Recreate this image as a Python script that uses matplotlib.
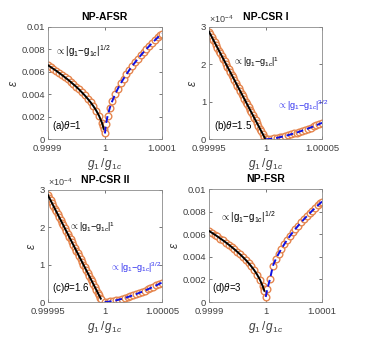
import numpy as np
import matplotlib
matplotlib.use("Agg")
import matplotlib.pyplot as plt

plt.rcParams['font.family'] = ['Liberation Sans', 'DejaVu Sans']
plt.rcParams['mathtext.fontset'] = 'custom'
plt.rcParams['mathtext.rm'] = 'Liberation Sans'
plt.rcParams['mathtext.it'] = 'Liberation Sans:italic'
plt.rcParams['mathtext.bf'] = 'Liberation Sans:bold'

# ---- data: distance from the critical point |g1/g1c - 1| and epsilon ----
# panel (a) NP-AFSR, distances in units of 1e-4
a_left_d = [1.0, 0.95, 0.9, 0.85, 0.8, 0.75, 0.7, 0.65, 0.6, 0.55, 0.5, 0.45,
            0.4, 0.35, 0.3, 0.25, 0.2, 0.15, 0.1, 0.05, 0.03, 0.02]
a_left_eps = [0.00660, 0.00643, 0.00626, 0.00609, 0.00590, 0.00572, 0.00552,
              0.00532, 0.00511, 0.00489, 0.00467, 0.00443, 0.00417, 0.00390,
              0.00361, 0.00330, 0.00295, 0.00256, 0.00209, 0.00148, 0.00114,
              0.00093]
a_right_d = [0.003, 0.02, 0.05, 0.09, 0.13, 0.18, 0.23, 0.28, 0.33, 0.38, 0.43,
             0.48, 0.53, 0.58, 0.63, 0.68, 0.73, 0.78, 0.83, 0.88, 0.93, 0.97, 1.0]
a_right_eps = [0.00052, 0.00133, 0.00210, 0.00282, 0.00339, 0.00399, 0.00451,
               0.00497, 0.00540, 0.00579, 0.00616, 0.00651, 0.00684, 0.00716,
               0.00746, 0.00775, 0.00803, 0.00830, 0.00856, 0.00882, 0.00907,
               0.00926, 0.00940]

# panel (b) NP-CSR I, distances in units of 1e-5, epsilon in units of 1e-4
b_left_d = [5, 4.875, 4.75, 4.625, 4.5, 4.375, 4.25, 4.125, 4, 3.875, 3.75,
            3.625, 3.5, 3.375, 3.25, 3.125, 3, 2.875, 2.75, 2.625, 2.5, 2.375,
            2.25, 2.125, 2, 1.875, 1.75, 1.625, 1.5, 1.375, 1.25, 1.125, 1,
            0.875, 0.75, 0.625, 0.5, 0.375, 0.25, 0.125, 0]
b_left_eps = [2.870, 2.798, 2.727, 2.655, 2.583, 2.511, 2.440, 2.368, 2.296,
              2.224, 2.153, 2.081, 2.009, 1.937, 1.866, 1.794, 1.722, 1.650,
              1.579, 1.507, 1.435, 1.363, 1.292, 1.220, 1.148, 1.076, 1.005,
              0.933, 0.861, 0.789, 0.718, 0.646, 0.574, 0.502, 0.431, 0.359,
              0.287, 0.215, 0.144, 0.072, 0.0]
b_right_d = [0, 0.25, 0.5, 0.75, 1, 1.25, 1.5, 1.75, 2, 2.25, 2.5, 2.75, 3,
             3.25, 3.5, 3.75, 4, 4.25, 4.5, 4.75, 5]
b_right_eps = [0.0, 0.005, 0.014, 0.026, 0.039, 0.055, 0.072, 0.091, 0.111,
               0.133, 0.156, 0.179, 0.205, 0.231, 0.258, 0.286, 0.315, 0.345,
               0.376, 0.407, 0.44]

# panel (c) NP-CSR II
c_left_d = [5, 4.875, 4.75, 4.625, 4.5, 4.375, 4.25, 4.125, 4, 3.875, 3.75,
            3.625, 3.5, 3.375, 3.25, 3.125, 3, 2.875, 2.75, 2.625, 2.5, 2.375,
            2.25, 2.125, 2, 1.875, 1.75, 1.625, 1.5, 1.375, 1.25, 1.125, 1,
            0.875, 0.75, 0.625, 0.5, 0.375, 0.35]
c_left_eps = [2.870, 2.796, 2.721, 2.646, 2.571, 2.497, 2.422, 2.347, 2.272,
              2.198, 2.123, 2.048, 1.973, 1.899, 1.824, 1.749, 1.674, 1.600,
              1.525, 1.450, 1.375, 1.301, 1.226, 1.151, 1.076, 1.002, 0.927,
              0.852, 0.777, 0.703, 0.628, 0.553, 0.478, 0.404, 0.329, 0.254,
              0.179, 0.105, 0.090]
c_right_d = [0, 0.25, 0.5, 0.75, 1, 1.25, 1.5, 1.75, 2, 2.25, 2.5, 2.75, 3,
             3.25, 3.5, 3.75, 4, 4.25, 4.5, 4.75, 5]
c_right_eps = [0.0, 0.006, 0.016, 0.030, 0.046, 0.065, 0.085, 0.108, 0.132,
               0.157, 0.184, 0.212, 0.242, 0.273, 0.305, 0.338, 0.372, 0.408,
               0.444, 0.482, 0.52]

# panel (d) NP-FSR, distances in units of 1e-4
d_left_d = [1.0, 0.95, 0.9, 0.85, 0.8, 0.75, 0.7, 0.65, 0.6, 0.55, 0.5, 0.45,
            0.4, 0.35, 0.3, 0.25, 0.2, 0.15, 0.1, 0.05, 0.03, 0.02]
d_left_eps = [0.00630, 0.00614, 0.00598, 0.00581, 0.00563, 0.00546, 0.00527,
              0.00508, 0.00488, 0.00467, 0.00445, 0.00423, 0.00398, 0.00373,
              0.00345, 0.00315, 0.00282, 0.00244, 0.00199, 0.00141, 0.00112,
              0.00100]
d_right_d = [0.004, 0.03, 0.08, 0.13, 0.18, 0.23, 0.28, 0.33, 0.38, 0.43, 0.48,
             0.53, 0.58, 0.63, 0.68, 0.73, 0.78, 0.83, 0.88, 0.93, 0.97, 1.0]
d_right_eps = [0.00045, 0.00112, 0.00205, 0.00321, 0.00378, 0.00427, 0.00471,
               0.00511, 0.00549, 0.00584, 0.00617, 0.00648, 0.00678, 0.00706,
               0.00734, 0.00760, 0.00786, 0.00811, 0.00835, 0.00858, 0.00877,
               0.00890]

titles = ['NP-AFSR', 'NP-CSR I', 'NP-CSR II', 'NP-FSR']
labels = [r'(a)$\theta$=1', r'(b)$\theta$=1.5', r'(c)$\theta$=1.6', r'(d)$\theta$=3']

orange = '#E5864F'
gray = '#404040'

fig = plt.figure(figsize=(3.67, 3.44), dpi=100)
positions = [[0.130, 0.595, 0.311, 0.327],
             [0.5695, 0.595, 0.308, 0.327],
             [0.130, 0.122, 0.311, 0.326],
             [0.5695, 0.122, 0.308, 0.328]]

law_half = r'$\propto|\mathrm{g}_1\mathrm{-g}_{1c}|^{1/2}$'
law_one = r'$\propto|\mathrm{g}_1\mathrm{-g}_{1c}|^{1}$'
law_32 = r'$\propto|\mathrm{g}_1\mathrm{-g}_{1c}|^{3/2}$'

# (left d, left eps, right d, right eps, x unit, y unit, x half-range in units)
panels = [
    (a_left_d, a_left_eps, a_right_d, a_right_eps, 1e-4, 1.0, 1),
    (b_left_d, b_left_eps, b_right_d, b_right_eps, 1e-5, 1e-4, 5),
    (c_left_d, c_left_eps, c_right_d, c_right_eps, 1e-5, 1e-4, 5),
    (d_left_d, d_left_eps, d_right_d, d_right_eps, 1e-4, 1.0, 1),
]

for i, (ld, le, rd, re, xs, ys, half) in enumerate(panels):
    ax = fig.add_axes(positions[i])
    xl = 1 - np.array(ld) * xs
    xr = 1 + np.array(rd) * xs
    yl = np.array(le) * ys
    yr = np.array(re) * ys
    ax.plot(xl, yl, 'o', ms=4.8, mfc='white', mec=orange, mew=1.0, zorder=2)
    ax.plot(xr, yr, 'o', ms=4.8, mfc='white', mec=orange, mew=1.0, zorder=2)
    ax.plot(xl, yl, '-', color='black', lw=1.4, zorder=3)
    ax.plot(xr, yr, '--', color='#1010E0', lw=1.4, dashes=(3.5, 2), zorder=3)

    lo, hi = 1 - half * xs, 1 + half * xs
    ax.set_xlim(lo, hi)
    ax.set_xticks([lo, 1, hi])
    if half == 1:
        ax.set_xticklabels(['0.9999', '1', '1.0001'])
        ax.set_ylim(0, 0.01)
        ax.set_yticks([0, 0.002, 0.004, 0.006, 0.008, 0.01])
        ax.set_yticklabels(['0', '0.002', '0.004', '0.006', '0.008', '0.01'])
    else:
        ax.set_xticklabels(['0.99995', '1', '1.00005'])
        ax.set_ylim(0, 3e-4)
        ax.set_yticks([0, 1e-4, 2e-4, 3e-4])
        ax.set_yticklabels(['0', '1', '2', '3'])
        ax.text(0.0, 1.015, r'$\times10^{-4}$', transform=ax.transAxes,
                fontsize=6.5, color=gray, ha='left', va='bottom')

    ax.tick_params(direction='in', length=2.5, width=0.5, labelsize=6.8,
                   colors=gray, top=True, right=True)
    ax.tick_params(axis='x', pad=3.5)
    ax.tick_params(axis='y', pad=2)
    for s in ax.spines.values():
        s.set_color('#8a8a8a')
        s.set_linewidth(0.6)

    ax.set_title(titles[i], fontsize=7.5, fontweight='bold', pad=5)
    ax.set_xlabel(r'$g_1\,/\,g_{1c}$', fontsize=8.5, labelpad=2, color=gray)
    ax.set_ylabel(r'$\epsilon$', fontsize=8.5, labelpad=1, color=gray)

    ax.text(0.04 if i != 3 else 0.03, 0.06, labels[i], transform=ax.transAxes,
            fontsize=7, color='black', ha='left', va='bottom')

# scaling-law annotations
fig.axes[0].text(0.06, 0.75, law_half, transform=fig.axes[0].transAxes,
                 fontsize=7, color='black')
fig.axes[1].text(0.21, 0.66, law_one, transform=fig.axes[1].transAxes,
                 fontsize=6.5, color='black')
fig.axes[1].text(0.6, 0.27, law_32, transform=fig.axes[1].transAxes,
                 fontsize=6.5, color='#3030F0')
fig.axes[2].text(0.19, 0.64, law_one, transform=fig.axes[2].transAxes,
                 fontsize=6.5, color='black')
fig.axes[2].text(0.55, 0.28, law_32, transform=fig.axes[2].transAxes,
                 fontsize=6.5, color='#3030F0')
fig.axes[3].text(0.1, 0.72, law_half, transform=fig.axes[3].transAxes,
                 fontsize=7, color='black')

fig.savefig('out.png', dpi=100)
